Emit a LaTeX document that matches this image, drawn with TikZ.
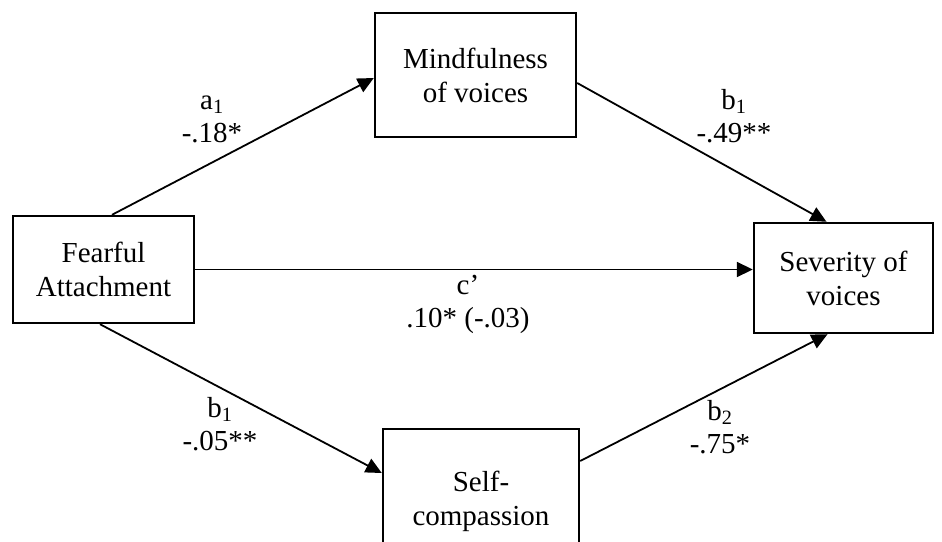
\documentclass[tikz,border=0pt]{standalone}
\usepackage{fontspec}
\setmainfont{Liberation Serif}
\usetikzlibrary{arrows.meta}
\begin{document}
\begin{tikzpicture}[x=1pt,y=-1pt,
  box/.style={draw,line width=2.4pt,inner sep=0pt,align=center,font=\fontsize{29}{34}\selectfont},
  lbl/.style={inner sep=0pt,align=center,anchor=base,font=\fontsize{29}{33}\selectfont},
  arr/.style={line width=1.8pt,-{Triangle[length=16pt,width=15pt]}}]
\useasboundingbox (0,0) rectangle (942,541);
\fill[white] (0,0) rectangle (942,541);
\node[box,minimum width=181pt,minimum height=107pt] (F) at (103.5,269.5) {Fearful\\Attachment};
\node[box,minimum width=201pt,minimum height=124pt] (M) at (475.5,75) {Mindfulness\\of voices};
\node[box,minimum width=179pt,minimum height=110pt] (S) at (843.5,278) {Severity of\\voices};
\node[box,minimum width=196pt,minimum height=144pt] (C) at (481,501) {Self-\\compassion};
\draw[arr] ([xshift=8.5pt]F.north) -- ([yshift=-3pt]M.west);
\draw[arr] ([yshift=-8pt]M.east) -- ([xshift=-17pt]S.north);
\draw[arr] (F.east) -- (F.east -| S.west);
\draw[arr] ([xshift=-3.5pt]F.south) -- ([yshift=28pt]C.west);
\draw[arr] ([yshift=40pt]C.east) -- ([xshift=-16pt]S.south);
\node[lbl] (la) at (212,142) {a\textsubscript{1}\\-.18*};
\node[lbl] (lb) at (734,142) {b\textsubscript{1}\\-.49**};
\node[lbl] (lc) at (468,327) {c’\\.10* (-.03)};
\node[lbl] (ld) at (220,450) {b\textsubscript{1}\\-.05**};
\node[lbl] (le) at (720,453) {b\textsubscript{2}\\-.75*};
\end{tikzpicture}
\end{document}
